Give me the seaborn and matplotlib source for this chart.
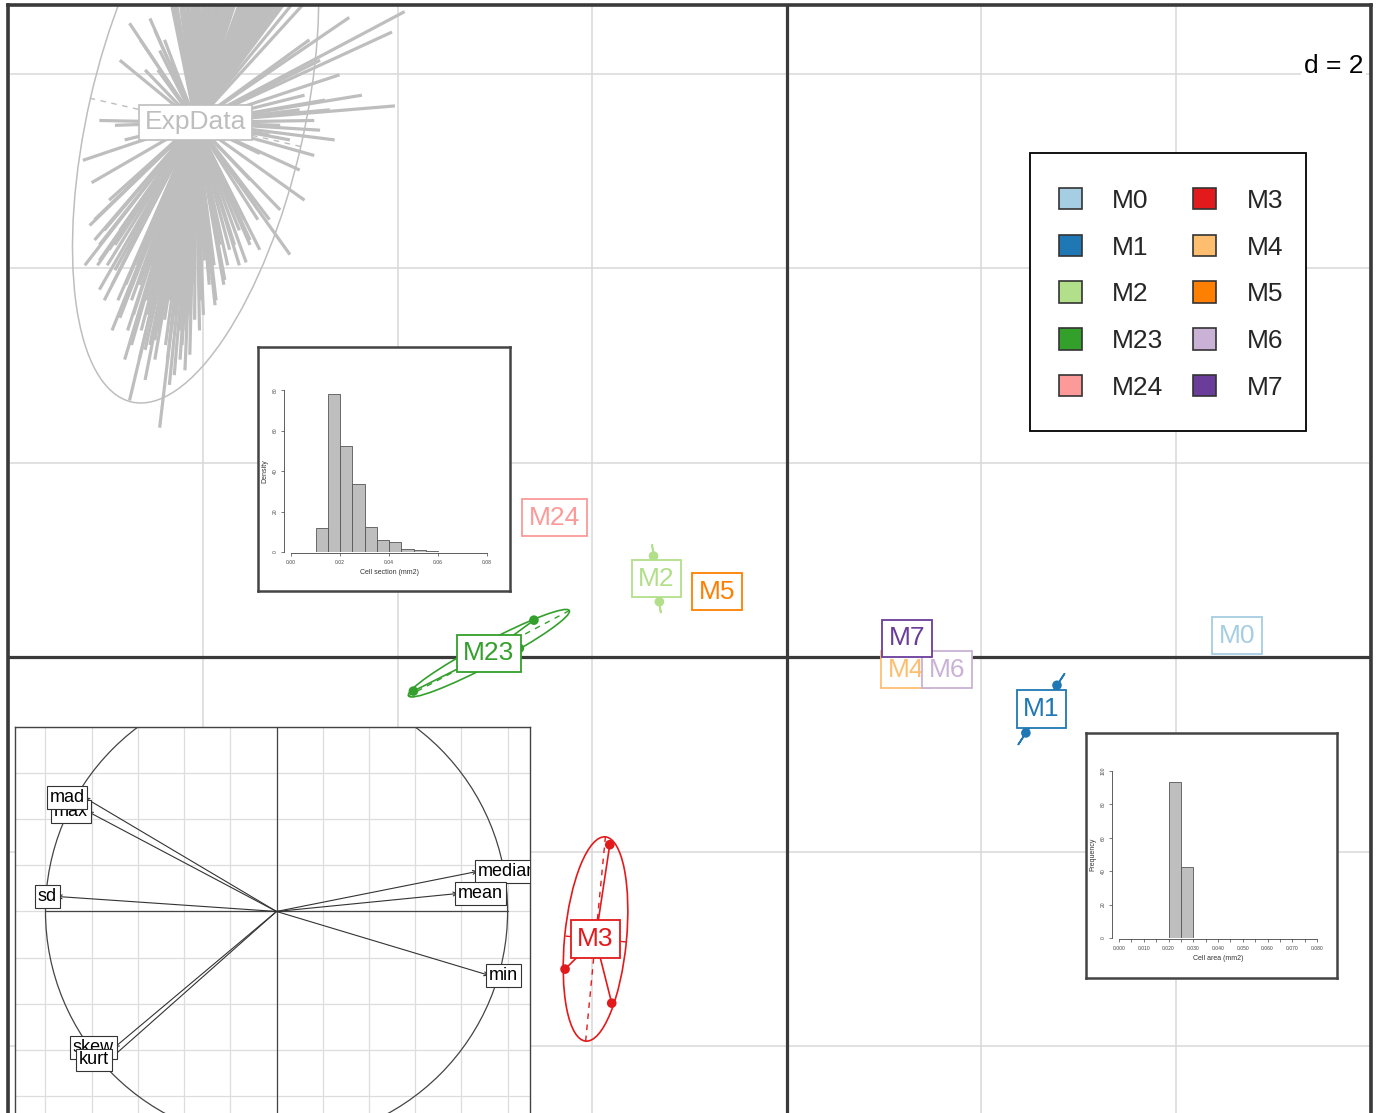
import numpy as np
import pandas as pd
import matplotlib
matplotlib.use("Agg")
import matplotlib.pyplot as plt
import seaborn as sns
from matplotlib.patches import Ellipse, Patch, Circle, Rectangle

sns.set_theme(style="white")
plt.rcParams["font.family"] = ["Liberation Sans", "DejaVu Sans"]

# ---------------- data ----------------
groups = ["M0", "M1", "M2", "M23", "M24", "M3", "M4", "M5", "M6", "M7"]
point_group = ["M0", "M1", "M1", "M2", "M2", "M23", "M23", "M23", "M24",
               "M3", "M3", "M3", "M4", "M5", "M6", "M7"]
point_x = [4.63, 2.78, 2.46, -1.37, -1.31, -2.60, -2.75, -3.84, -2.39,
           -1.82, -2.28, -1.80, 1.23, -0.715, 1.65, 1.24]
point_y = [0.22, -0.29, -0.78, 1.04, 0.57, 0.38, 0.09, -0.35, 1.435,
           -1.93, -3.21, -3.56, -0.13, 0.674, -0.13, 0.195]

exp_label = "ExpData"
exp_center = (-6.08, 5.50)
exp_ellipse_semiaxes = (2.95, 1.11)
exp_ellipse_angle = 77.1
exp_x = [-6.40, -6.33, -6.24, -6.17, -6.09, -6.02, -5.94, -5.86, -5.78, -5.71, -5.63,
         -5.56, -5.47, -5.40, -5.32, -5.25, -5.16, -5.09, -5.01, -4.91, -4.80, -4.65,
         -6.37, -6.28, -6.20, -6.13, -6.06, -5.98, -5.90, -5.82, -5.75, -5.67, -5.59,
         -5.50, -5.43, -5.36, -5.28, -5.21, -5.12, -5.05, -4.96,
         -6.35, -6.26, -6.18, -6.10, -6.03, -5.96, -5.88, -5.80, -5.73, -5.65, -5.58,
         -5.49, -5.41, -5.34, -5.26, -5.19, -5.11, -5.03,
         -6.76, -6.55, -6.65, -6.45, -6.86, -6.60, -6.50, -6.40, -6.33, -6.47,
         -3.93, -4.06, -4.50, -4.03, -4.37, -4.60, -4.70, -4.80, -4.91,
         -5.01, -4.86, -5.11, -4.75, -4.96,
         -4.86, -4.96, -5.11, -5.42, -5.56, -5.01, -5.21, -4.80, -4.65, -5.42, -5.32, -5.21, -5.52,
         -7.24, -7.15, -7.22, -7.07, -6.91, -6.81, -6.97, -7.02,
         -6.45, -6.76, -6.86, -7.07, -6.14, -5.88, -6.30, -6.60, -6.71, -6.50, -6.40, -6.24,
         -6.04, -5.99, -5.94, -6.55, -6.66, -6.81, -6.91, -6.97, -6.35, -6.19, -6.09, -6.76,
         -6.86, -7.07, -5.78, -5.73, -5.63, -5.52, -6.60, -6.35, -6.19, -7.12, -7.17,
         -7.02, -6.88, -6.74, -6.59, -6.45, -6.31, -6.16, -6.02, -5.87,
         -6.94, -6.78, -6.64, -6.47, -6.33, -6.18, -6.04,
         -7.09, -6.99, -6.84, -6.68, -6.53, -6.37, -6.20, -6.04, -5.89, -5.75, -5.63,
         -6.81, -6.66, -6.50, -6.37, -6.24,
         -7.12, -5.58, -5.44, -5.32,
         -6.94, -6.80, -6.66, -6.51, -6.37, -6.22, -6.10, -5.94, -5.79,
         -6.86, -6.72, -6.57, -6.43, -6.29, -6.14, -6.00,
         -7.07, -6.91, -6.76, -6.60, -6.45, -6.30, -6.14, -5.99, -5.83, -5.68, -5.52,
         -6.74, -6.55, -6.39, -6.22]
exp_y = [7.07, 7.07, 7.07, 7.07, 7.07, 7.07, 7.07, 7.07, 7.07, 7.07, 7.07,
         7.07, 7.07, 7.07, 7.07, 7.07, 7.07, 7.07, 7.07, 7.07, 7.07, 7.07,
         7.07, 7.07, 7.07, 7.07, 7.07, 7.07, 7.07, 7.07, 7.07, 7.07, 7.07,
         7.07, 7.07, 7.07, 7.07, 7.07, 7.07, 7.07, 7.07,
         7.07, 7.07, 7.07, 7.07, 7.07, 7.07, 7.07, 7.07, 7.07, 7.07, 7.07,
         7.07, 7.07, 7.07, 7.07, 7.07, 7.07, 7.07,
         6.52, 6.57, 6.35, 6.24, 6.14, 6.04, 6.45, 6.35, 6.14, 6.04,
         6.64, 6.43, 6.58, 5.67, 5.78, 5.99, 5.63, 6.14, 6.35,
         5.63, 5.52, 5.32, 5.73, 5.78,
         5.16, 4.70, 4.14, 4.19, 4.06, 5.01, 4.60, 5.42, 5.32, 5.18, 5.37, 5.47, 4.91,
         5.11, 4.88, 4.03, 5.52, 5.47, 5.32, 4.70, 4.39,
         2.36, 2.64, 3.49, 3.78, 3.11, 3.62, 2.90, 3.16, 3.36, 3.26, 3.47, 3.36,
         3.78, 4.08, 3.88, 3.67, 3.88, 3.67, 3.98, 4.19, 3.67, 3.57, 3.47, 4.19,
         4.39, 4.08, 3.88, 4.19, 4.39, 4.29, 2.85, 2.80, 2.95, 4.29, 4.44,
         3.67, 3.67, 3.67, 3.67, 3.67, 3.67, 3.67, 3.67, 3.67,
         3.36, 3.36, 3.36, 3.36, 3.36, 3.36, 3.36,
         4.03, 4.03, 4.03, 4.03, 4.03, 4.03, 4.03, 4.03, 4.03, 4.03, 4.03,
         3.06, 3.06, 3.06, 3.06, 3.06,
         4.50, 4.50, 4.50, 4.50,
         3.83, 3.83, 3.83, 3.83, 3.83, 3.83, 3.83, 3.83, 3.83,
         3.52, 3.52, 3.52, 3.52, 3.52, 3.52, 3.52,
         4.24, 4.24, 4.24, 4.24, 4.24, 4.24, 4.24, 4.24, 4.24, 4.24, 4.24,
         3.21, 3.21, 3.21, 3.21]

var_names = ["max", "mad", "sd", "median", "mean", "min", "skew", "kurt"]
var_x = [-0.816, -0.831, -0.950, 0.871, 0.786, 0.920, -0.703, -0.725]
var_y = [0.433, 0.494, 0.065, 0.174, 0.078, -0.277, -0.591, -0.644]

hist1_edges = [0.010, 0.015, 0.020, 0.025, 0.030, 0.035, 0.040, 0.045, 0.050, 0.055, 0.060]
hist1_density = [11.8, 77.8, 52.2, 33.6, 12.2, 6.0, 5.0, 1.4, 0.8, 0.4]
hist1_ticks_x = [0.00, 0.02, 0.04, 0.06, 0.08]
hist1_ticks_y = [0, 20, 40, 60, 80]

hist2_edges = [0.020, 0.025, 0.030]
hist2_freq = [93.6, 42.4]
hist2_ticks_x = [0.00, 0.01, 0.02, 0.03, 0.04, 0.05, 0.06, 0.07, 0.08]
hist2_ticks_y = [0, 20, 40, 60, 80, 100]

palette = sns.color_palette("Paired", 10)
colors = dict(zip(groups, palette))
EXP_COL = "#BEBEBE"
DARK = "#3A3A3A"

W, H = 1379, 1113


def fr(l, t, r, b):
    return [l / W, 1 - b / H, (r - l) / W, (b - t) / H]


fig = plt.figure(figsize=(W / 100, H / 100), dpi=100)
fig.patch.set_facecolor("white")

# ---------------- main panel ----------------
ax = fig.add_axes(fr(8, 5, 1371, 1113))
ax.set_xlim(-8.01, 6.01)
ax.set_ylim(-4.69, 6.708)
ax.set_xticks(np.arange(-8, 7, 2))
ax.set_yticks(np.arange(-4, 7, 2))
ax.set_xticklabels([])
ax.set_yticklabels([])
ax.tick_params(length=0)
ax.grid(True, color="#D8D8D8", lw=1.1, zorder=0)
ax.set_axisbelow(True)
for s in ["left", "top", "right"]:
    ax.spines[s].set_linewidth(2.6)
    ax.spines[s].set_color(DARK)
ax.spines["bottom"].set_visible(False)
ax.axhline(0, color=DARK, lw=2.3, zorder=1)
ax.axvline(0, color=DARK, lw=2.3, zorder=1)

# ExpData star + ellipse
cx, cy = exp_center
for x, y in zip(exp_x, exp_y):
    ax.plot([cx, x], [cy, y], color=EXP_COL, lw=2.3, zorder=2, solid_capstyle="butt")
a, b = exp_ellipse_semiaxes
ax.add_patch(Ellipse(exp_center, 2 * a, 2 * b, angle=exp_ellipse_angle,
                     fill=False, ec=EXP_COL, lw=1.1, zorder=2))
t = np.deg2rad(exp_ellipse_angle)
ax.plot([cx + b * np.sin(t), cx - b * np.sin(t)], [cy - b * np.cos(t), cy + b * np.cos(t)],
        color=EXP_COL, lw=1.0, ls=(0, (4, 4)), zorder=2)
ax.text(cx, cy, exp_label, ha="center", va="center", fontsize=19, color=EXP_COL, zorder=5,
        bbox=dict(boxstyle="square,pad=0.22", fc="white", ec=EXP_COL, lw=1.2))

df = pd.DataFrame({"group": point_group, "x": point_x, "y": point_y})

centers = {}
for g in groups:
    sub = df[df["group"] == g]
    mx, my = sub["x"].mean(), sub["y"].mean()
    centers[g] = (mx, my)
    col = colors[g]
    if len(sub) > 1:
        for x, y in zip(sub["x"], sub["y"]):
            ax.plot([mx, x], [my, y], color=col, lw=1.2, zorder=2)
        cov = np.cov(np.vstack([sub["x"], sub["y"]]), ddof=0)
        vals, vecs = np.linalg.eigh(cov)
        vals = np.clip(vals, 0, None)
        major = vecs[:, 1]
        minor = vecs[:, 0]
        A = 1.5 * np.sqrt(vals[1])
        B = 1.5 * np.sqrt(vals[0])
        ang = np.degrees(np.arctan2(major[1], major[0]))
        ax.add_patch(Ellipse((mx, my), 2 * A, 2 * B, angle=ang, fill=False,
                             ec=col, lw=1.2, zorder=2))
        for v, L in ((major, A), (minor, B)):
            ax.plot([mx - L * v[0], mx + L * v[0]], [my - L * v[1], my + L * v[1]],
                    color=col, lw=1.0, ls=(0, (4, 4)), zorder=2)

sns.scatterplot(data=df, x="x", y="y", hue="group", palette=colors, s=48,
                edgecolor="none", legend=False, ax=ax, zorder=3)
ax.set_xlabel("")
ax.set_ylabel("")

for g in groups:
    mx, my = centers[g]
    col = colors[g]
    ax.text(mx, my, g, ha="center", va="center", fontsize=19, color=col, zorder=5,
            bbox=dict(boxstyle="square,pad=0.25", fc="white", ec=col, lw=1.3))

fig.text(1363 / W, 1 - 66 / H, "d = 2", ha="right", va="center", fontsize=19,
         color="black", bbox=dict(fc="white", ec="none", pad=2))

# legend: frame drawn as a figure rectangle, entries by matplotlib legend
fig.add_artist(Rectangle((1030 / W, 1 - 431 / H), 276 / W, 278 / H,
                         transform=fig.transFigure, fc="white", ec="black", lw=1.3,
                         zorder=4))
handles = [Patch(facecolor=colors[g], edgecolor="#333333", lw=1.2) for g in groups]
leg = fig.legend(handles, groups, ncol=2, loc="upper left",
                 bbox_to_anchor=(1059 / W, 1 - 188 / H), bbox_transform=fig.transFigure,
                 fontsize=19, handlelength=0.87, handleheight=0.87, handletextpad=1.14,
                 columnspacing=1.14, labelspacing=0.83, borderpad=0, borderaxespad=0,
                 frameon=False)
leg.set_zorder(5)


# ---------------- histogram insets ----------------
def hist_inset(frame_box, inner_box, edges, heights, xt, yt, xfmt, xlabel, ylabel,
               ymax, minor=None):
    fa = fig.add_axes(fr(*frame_box))
    fa.set_xticks([])
    fa.set_yticks([])
    fa.set_facecolor("white")
    for s in fa.spines.values():
        s.set_linewidth(1.8)
        s.set_color("#444444")
    ia = fig.add_axes(fr(*inner_box))
    ia.patch.set_alpha(0)
    mids = [(edges[i] + edges[i + 1]) / 2 for i in range(len(heights))]
    sns.histplot(x=mids, weights=heights, bins=edges, stat="count", ax=ia,
                 color="#BEBEBE", edgecolor="#555555", linewidth=0.6, alpha=1)
    ia.set_xlim(xt[0], xt[-1])
    ia.set_ylim(0, ymax)
    for s in ["top", "right"]:
        ia.spines[s].set_visible(False)
    for s in ["left", "bottom"]:
        ia.spines[s].set_linewidth(0.6)
        ia.spines[s].set_color("#444444")
    ia.spines["left"].set_bounds(yt[0], yt[-1])
    ia.spines["bottom"].set_bounds(xt[0], xt[-1])
    ia.spines["left"].set_position(("outward", 5))
    ia.spines["bottom"].set_position(("outward", 1))
    ia.set_xticks(xt)
    ia.set_xticklabels([xfmt % v for v in xt], fontsize=3.6, color="#444444")
    ia.set_yticks(yt)
    ia.set_yticklabels([str(v) for v in yt], fontsize=3.6, color="#444444",
                       rotation=90, va="center")
    if minor is not None:
        ia.set_xticks(minor, minor=True)
    ia.tick_params(axis="both", which="both", bottom=True, left=True, direction="out",
                   length=2.5, width=0.5, colors="#444444", pad=2)
    ia.set_xlabel(xlabel, fontsize=5, color="#333333", labelpad=3)
    ia.set_ylabel(ylabel, fontsize=5, color="#333333", labelpad=3)
    ia.grid(False)


hist_inset((258, 347, 510, 591), (291, 390, 487, 552), hist1_edges, hist1_density,
           hist1_ticks_x, hist1_ticks_y, "%.2f", "Cell section (mm2)", "Density", 80)
hist_inset((1086, 733, 1337, 978), (1119, 771, 1317, 938), hist2_edges, hist2_freq,
           hist2_ticks_x, hist2_ticks_y, "%.3f", "Cell area (mm2)", "Frequency", 100,
           minor=np.arange(0.005, 0.08, 0.01))

# ---------------- correlation circle inset ----------------
a3 = fig.add_axes(fr(15, 727, 530, 1113))
a3.set_facecolor("white")
a3.set_xlim(-1.132, 1.097)
a3.set_ylim(-0.874, 0.797)
a3.set_xticks(np.arange(-1.0, 1.01, 0.2))
a3.set_yticks(np.arange(-0.8, 0.81, 0.2))
a3.set_xticklabels([])
a3.set_yticklabels([])
a3.tick_params(length=0)
a3.grid(True, color="#DDDDDD", lw=0.9)
for s in ["left", "top", "right"]:
    a3.spines[s].set_linewidth(1.0)
    a3.spines[s].set_color("#444444")
a3.spines["bottom"].set_visible(False)
a3.add_patch(Circle((0, 0), 1, fill=False, ec="#444444", lw=0.9, zorder=2))
a3.plot([-1, 1], [0, 0], color="#444444", lw=0.9, zorder=2)
a3.plot([0, 0], [-1, 1], color="#444444", lw=0.9, zorder=2)
for name, x, y in zip(var_names, var_x, var_y):
    a3.annotate("", xy=(x, y), xytext=(0, 0),
                arrowprops=dict(arrowstyle="->", color="#333333", lw=0.8,
                                shrinkA=0, shrinkB=0, mutation_scale=7), zorder=3)
    a3.text(x, y, name, ha="right" if x < 0 else "left", va="center", fontsize=13,
            color="black", zorder=4, clip_on=True,
            bbox=dict(boxstyle="square,pad=0.16", fc="white", ec="#333333", lw=0.8))

fig.savefig("out.png", dpi=100)
